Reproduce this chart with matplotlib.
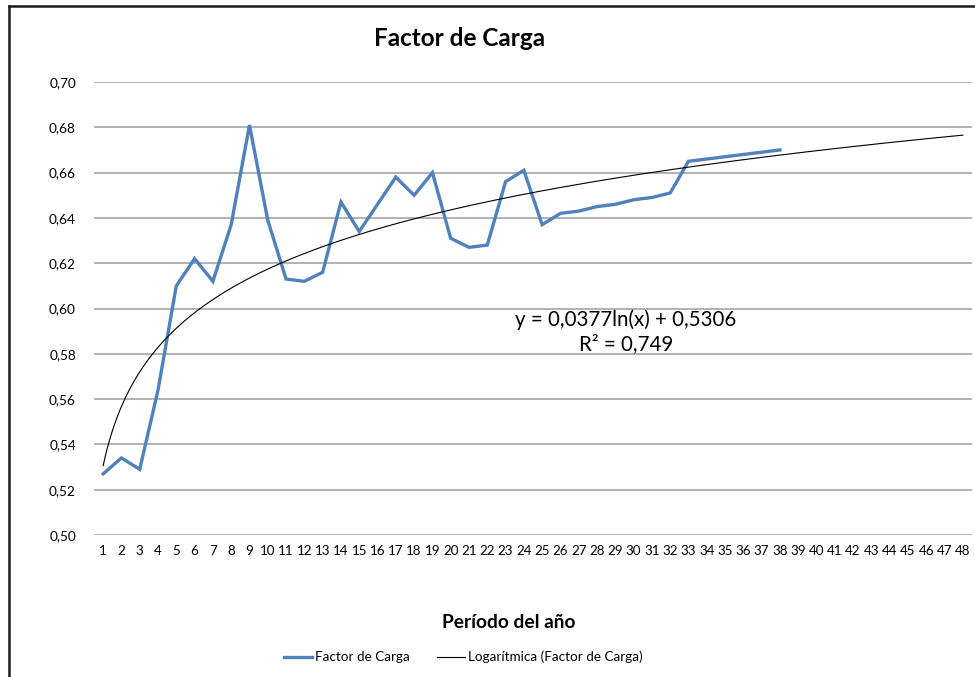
import numpy as np
import matplotlib.pyplot as plt
from matplotlib.lines import Line2D

plt.rcParams['font.family'] = ['Lato', 'DejaVu Sans']

# === Data ===
periods = list(range(1, 49))
factor_carga = [0.527, 0.534, 0.529, 0.564, 0.610, 0.622, 0.612, 0.637, 0.681, 0.639,
                0.613, 0.612, 0.616, 0.647, 0.634, 0.646, 0.658, 0.650, 0.660, 0.631,
                0.627, 0.628, 0.656, 0.661, 0.637, 0.642, 0.643, 0.645, 0.646, 0.648,
                0.649, 0.651, 0.665, 0.666, 0.667, 0.668, 0.669, 0.670]
trend_slope = 0.0377
trend_intercept = 0.5306
r_squared = 0.749
yticks = [0.50, 0.52, 0.54, 0.56, 0.58, 0.60, 0.62, 0.64, 0.66, 0.68, 0.70]

fig = plt.figure(figsize=(9.75, 6.77), dpi=100)
ax = fig.add_axes([94 / 975, 1 - 535 / 677, 878 / 975, 453 / 677])

x_data = np.arange(1, len(factor_carga) + 1)
ax.plot(x_data, factor_carga, color='#4F81BD', lw=2.4, solid_joinstyle='miter', zorder=3)

# logarithmic trend line across all periods
x_trend = np.linspace(1, periods[-1], 400)
ax.plot(x_trend, trend_slope * np.log(x_trend) + trend_intercept,
        color='black', lw=0.8, zorder=4)

ax.set_xlim(0.5, len(periods) + 0.5)
ax.set_ylim(0.50, 0.70)
ax.set_xticks(periods)
ax.set_xticklabels([str(p) for p in periods], fontsize=9.6)
ax.set_yticks(yticks)
ax.set_yticklabels([f"{v:.2f}".replace('.', ',') for v in yticks], fontsize=9.8)
ax.tick_params(length=0)
ax.tick_params(axis='y', pad=13)
ax.tick_params(axis='x', pad=7)
ax.grid(axis='y', color='#a6a6a6', lw=1.2)
ax.set_axisbelow(True)
for s in ax.spines.values():
    s.set_visible(False)

# equation label
eq_text = f"y = {trend_slope:.4f}ln(x) + {trend_intercept:.4f}".replace('.', ',')
r2_text = f"R² = {r_squared:.3f}".replace('.', ',')
fig.text(626 / 975, 1 - 320 / 677, eq_text, ha='center', va='center', fontsize=14.8)
fig.text(626 / 975, 1 - 344 / 677, r2_text, ha='center', va='center', fontsize=14.8)

# titles
fig.text(460 / 975, 1 - 38 / 677, "Factor de Carga", ha='center', va='center',
         fontsize=17.5, fontweight='bold')
fig.text(509 / 975, 1 - 623 / 677, "Período del año", ha='center', va='center',
         fontsize=13.8, fontweight='bold')

# legend
handles = [Line2D([], [], color='#4F81BD', lw=2.4),
           Line2D([], [], color='black', lw=0.8)]
fig.legend(handles, ["Factor de Carga", "Logarítmica (Factor de Carga)"],
           loc='center', bbox_to_anchor=(463 / 975, 1 - 657 / 677), ncol=2,
           frameon=False, fontsize=9.7, handlelength=2.1, handletextpad=0.2,
           columnspacing=2.0)

# outer chart border (left and top visible)
fig.add_artist(Line2D([9 / 975, 9 / 975], [0, 1 - 6 / 677], transform=fig.transFigure,
                      color='#1a1a1a', lw=1.8))
fig.add_artist(Line2D([9 / 975, 1], [1 - 6 / 677, 1 - 6 / 677], transform=fig.transFigure,
                      color='#1a1a1a', lw=1.8))

fig.savefig("out.png", dpi=100)
